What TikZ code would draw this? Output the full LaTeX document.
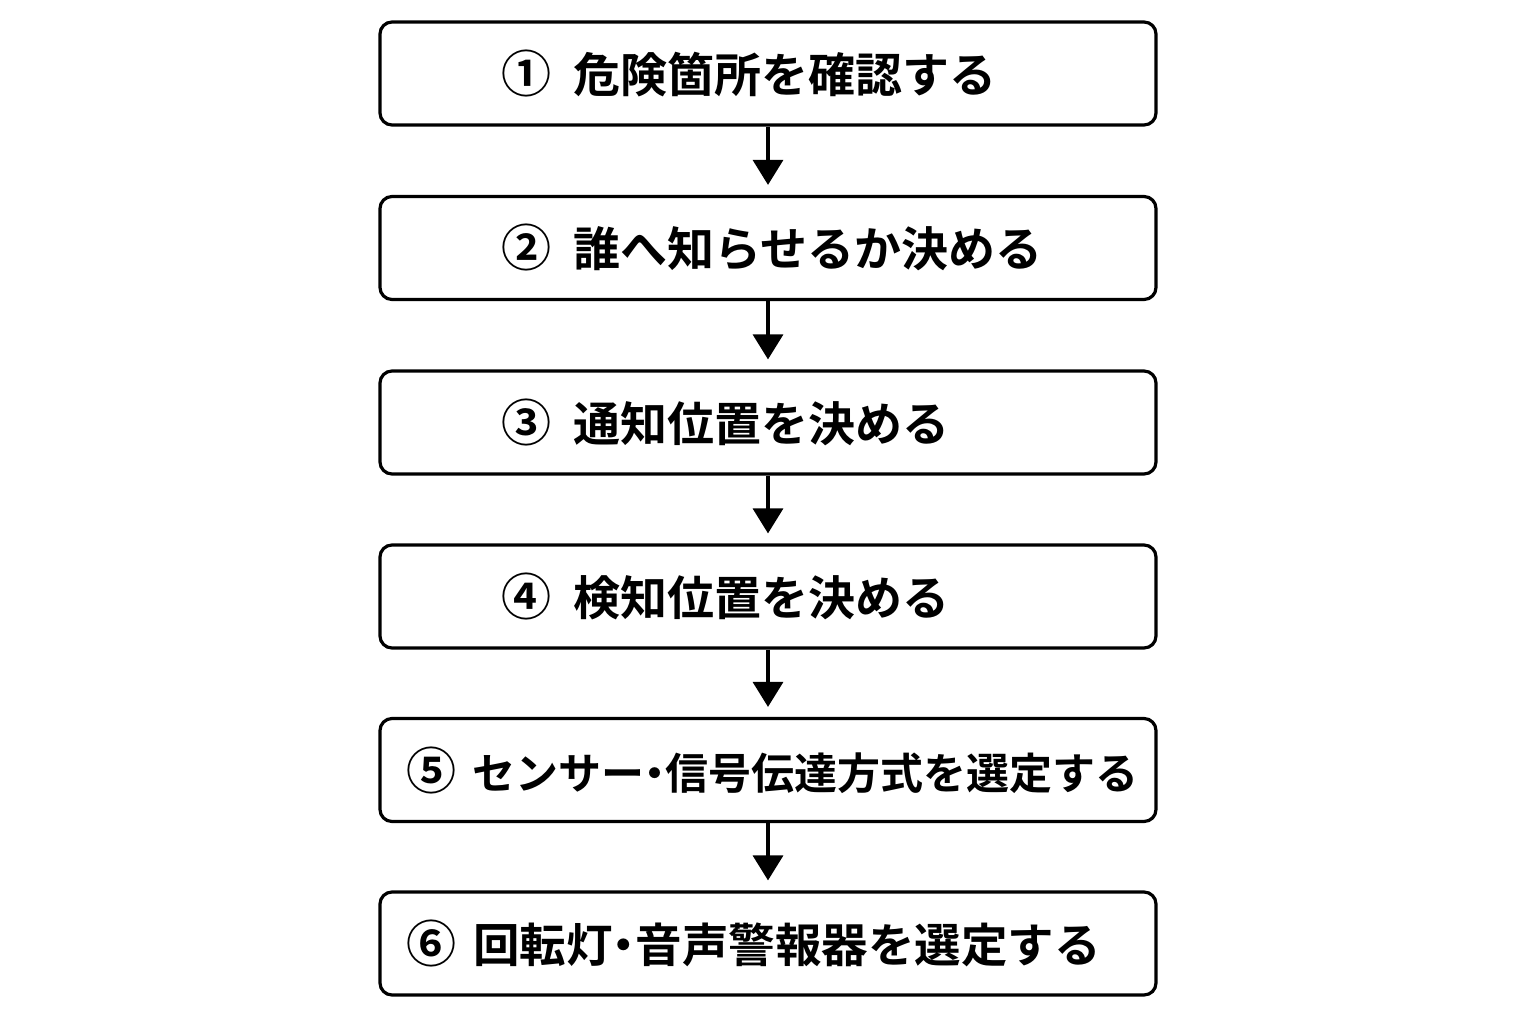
\documentclass[tikz,border=0pt]{standalone}
\usepackage{fontspec}
\newfontfamily\jpfont{Noto Sans CJK JP Bold}
\usetikzlibrary{arrows.meta}
\newcommand{\circnum}[1]{{\fontsize{50}{50}\selectfont #1}}
\newcommand{\hdot}{\makebox[0.5em][c]{・}}
\newcommand{\steptext}[5]{\hbox to 776pt{\hspace{#1pt}\circnum{#3}\hspace{#2pt}{\fontsize{#4}{#4}\selectfont #5}\hfil}}
\begin{document}
\begin{tikzpicture}[x=1pt,y=-1pt,
  stepbox/.style={draw=black, line width=3.2pt, rounded corners=12pt, fill=white,
    minimum width=776pt, minimum height=103pt, inner sep=0pt,
    font=\jpfont},
  flow/.style={line width=3.4pt, -{Triangle[width=30pt,length=25pt]}, shorten >=10pt}]
\useasboundingbox (0,0) rectangle (1536,1024);
\node[stepbox] (s1) at (768,73.5) {\steptext{121}{22}{①}{47}{危険箇所を確認する}};
\node[stepbox] (s2) at (768,248) {\steptext{121}{22}{②}{47}{誰へ知らせるか決める}};
\node[stepbox] (s3) at (768,422.5) {\steptext{121}{22}{③}{47}{通知位置を決める}};
\node[stepbox] (s4) at (768,596.5) {\steptext{121}{22}{④}{47}{検知位置を決める}};
\node[stepbox] (s5) at (768,770) {\steptext{26}{16}{⑤}{43}{センサー\hdot 信号伝達方式を選定する}};
\node[stepbox] (s6) at (768,943.5) {\steptext{26}{17}{⑥}{46.5}{回転灯\hdot 音声警報器を選定する}};
\draw[flow] (s1.south) -- (s2.north);
\draw[flow] (s2.south) -- (s3.north);
\draw[flow] (s3.south) -- (s4.north);
\draw[flow] (s4.south) -- (s5.north);
\draw[flow] (s5.south) -- (s6.north);
\end{tikzpicture}
\end{document}
